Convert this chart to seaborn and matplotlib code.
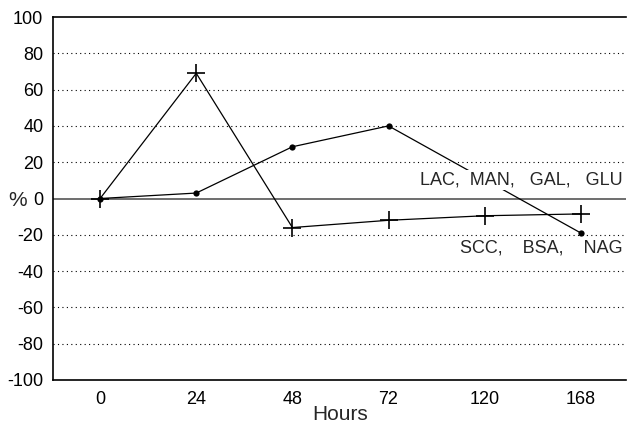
import numpy as np
import pandas as pd
import matplotlib
matplotlib.use("Agg")
import matplotlib.pyplot as plt
import seaborn as sns

hours = ["0", "24", "48", "72", "120", "168"]
plus_values = [0, 69, -16, -12, -9.5, -8.5]          # SCC, BSA, NAG
dot_hours = ["0", "24", "48", "72", "168"]
dot_values = [0, 3, 28.5, 40, -19]                   # LAC, MAN, GAL, GLU
yticks = [-100, -80, -60, -40, -20, 0, 20, 40, 60, 80, 100]

sns.set_theme(style="white")
plt.rcParams["font.family"] = ["Liberation Sans", "DejaVu Sans"]

pos = {h: i for i, h in enumerate(hours)}
df_plus = pd.DataFrame({"x": [pos[h] for h in hours], "y": plus_values})
df_dot = pd.DataFrame({"x": [pos[h] for h in dot_hours], "y": dot_values})

fig = plt.figure(figsize=(6.28, 4.30), dpi=100)
ax = fig.add_axes([53/628, 1 - 380/430, 573/628, 363/430])

for yv in yticks:
    if yv in (-100, 0, 100):
        continue
    ax.axhline(yv, color="black", linestyle=(0, (1, 3)), linewidth=0.8, zorder=1)
ax.axhline(0, color="#555555", linewidth=1.2, zorder=1)

sns.lineplot(data=df_plus, x="x", y="y", ax=ax, color="black", linewidth=0.9,
             marker="+", markersize=13, markeredgewidth=1.2,
             markeredgecolor="black", sort=False, zorder=3)
sns.lineplot(data=df_dot, x="x", y="y", ax=ax, color="black", linewidth=0.9,
             marker="o", markersize=4.5, markeredgewidth=0,
             markerfacecolor="black", sort=False, zorder=3)

ax.text(5.43, 10, "LAC,  MAN,   GAL,   GLU", ha="right", va="center", fontsize=13,
        bbox=dict(facecolor="white", edgecolor="none", pad=1), zorder=4)
ax.text(5.43, -27.5, "SCC,    BSA,    NAG", ha="right", va="center", fontsize=13,
        bbox=dict(facecolor="white", edgecolor="none", pad=1), zorder=4)

ax.set_xlim(-0.49, 5.47)
ax.set_ylim(-100, 100)
ax.set_yticks(yticks)
ax.set_yticklabels([str(v) for v in yticks], fontsize=13)
ax.set_xticks(range(len(hours)))
ax.set_xticklabels(hours, fontsize=13)
ax.tick_params(axis="x", direction="in", length=6, width=1, colors="black", pad=8)
ax.tick_params(axis="y", direction="out", length=4, width=1, colors="black", pad=3)
ax.set_xlabel("")
ax.set_ylabel("")
fig.text(340/628, 1 - 415/430, "Hours", fontsize=15, ha="center", va="center")
fig.text(18/628, 1 - 201/430, "%", fontsize=15, ha="center", va="center")

for side in ["left", "bottom", "top"]:
    ax.spines[side].set_color("black")
    ax.spines[side].set_linewidth(1.2)
ax.spines["right"].set_visible(False)

fig.savefig("out.png", dpi=100, facecolor="white")
